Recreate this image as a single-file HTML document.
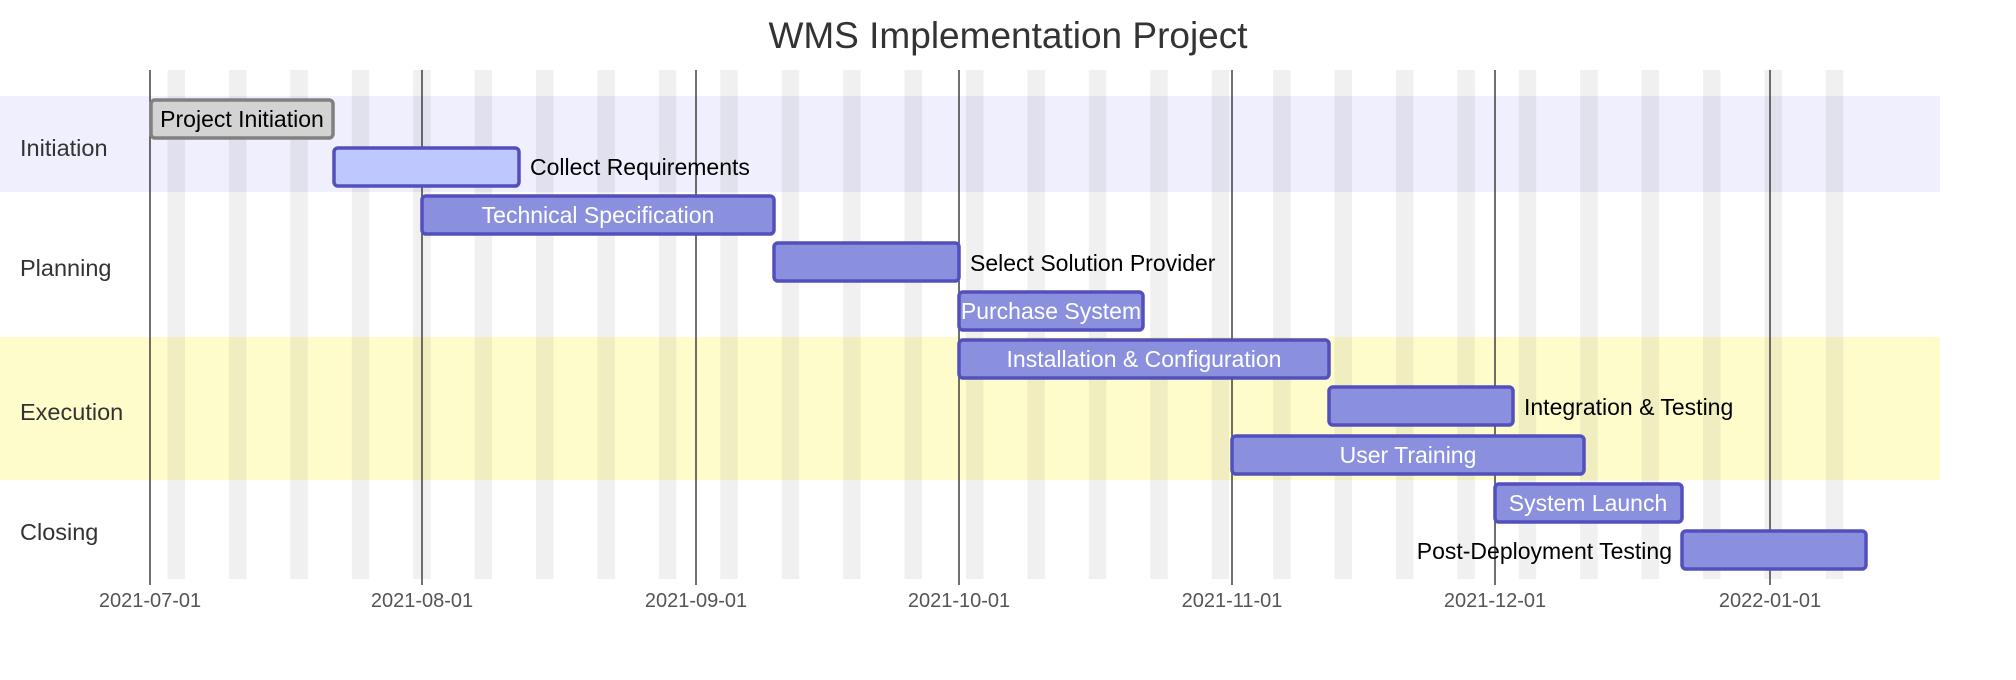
<!DOCTYPE html>
<html><head><meta charset="utf-8"><style>
html,body{margin:0;padding:0;background:#fff;}
svg{display:block;font-family:"Liberation Sans",sans-serif;}
</style></head><body>
<svg width="2016" height="680" viewBox="0 0 2016 680" xmlns="http://www.w3.org/2000/svg">
<defs>
<pattern id="wk" patternUnits="userSpaceOnUse" x="167.5" y="0" width="61.42" height="680">
<rect x="0" y="0" width="17.5" height="680" fill="#000" fill-opacity="0.06"/>
</pattern>
</defs>
<text x="1008" y="48" text-anchor="middle" font-size="37" fill="#333">WMS Implementation Project</text>
<rect x="0" y="96" width="1940" height="96" fill="#efeffd"/>
<rect x="0" y="337" width="1940" height="143" fill="#fffccc"/>
<rect x="167" y="70" width="1700" height="509" fill="url(#wk)"/>
<g stroke="#333" stroke-width="1.4">
<line x1="150" y1="70" x2="150" y2="585"/>
<line x1="422" y1="70" x2="422" y2="585"/>
<line x1="696" y1="70" x2="696" y2="585"/>
<line x1="959" y1="70" x2="959" y2="585"/>
<line x1="1232" y1="70" x2="1232" y2="585"/>
<line x1="1495" y1="70" x2="1495" y2="585"/>
<line x1="1770" y1="70" x2="1770" y2="585"/>
</g>
<g font-size="20" fill="#555" text-anchor="middle">
<text x="150" y="607">2021-07-01</text>
<text x="422" y="607">2021-08-01</text>
<text x="696" y="607">2021-09-01</text>
<text x="959" y="607">2021-10-01</text>
<text x="1232" y="607">2021-11-01</text>
<text x="1495" y="607">2021-12-01</text>
<text x="1770" y="607">2022-01-01</text>
</g>
<g font-size="23.5" fill="#333">
<text x="20" y="156">Initiation</text>
<text x="20" y="276">Planning</text>
<text x="20" y="420">Execution</text>
<text x="20" y="540">Closing</text>
</g>
<g stroke-width="3.5" stroke="#534fbc" fill="#8a90dd">
<rect x="151" y="100" width="182" height="38" rx="4" fill="#d3d3d3" stroke="#808080"/>
<rect x="334" y="148" width="185" height="38" rx="4" fill="#bfc7ff"/>
<rect x="422" y="196" width="352" height="38" rx="4"/>
<rect x="774" y="243" width="185" height="38" rx="4"/>
<rect x="959" y="292" width="184" height="38" rx="4"/>
<rect x="959" y="340" width="370" height="38" rx="4"/>
<rect x="1329" y="387" width="184" height="38" rx="4"/>
<rect x="1232" y="436" width="352" height="38" rx="4"/>
<rect x="1495" y="484" width="187" height="38" rx="4"/>
<rect x="1682" y="531" width="184" height="38" rx="4"/>
</g>
<g font-size="23">
<text x="242" y="127" text-anchor="middle" fill="#000">Project Initiation</text>
<text x="530" y="175" fill="#000">Collect Requirements</text>
<text x="598" y="223" text-anchor="middle" fill="#fff">Technical Specification</text>
<text x="970" y="271" fill="#000">Select Solution Provider</text>
<text x="1051" y="319" text-anchor="middle" fill="#fff">Purchase System</text>
<text x="1144" y="367" text-anchor="middle" fill="#fff">Installation &amp; Configuration</text>
<text x="1524" y="415" fill="#000">Integration &amp; Testing</text>
<text x="1408" y="463" text-anchor="middle" fill="#fff">User Training</text>
<text x="1588" y="511" text-anchor="middle" fill="#fff">System Launch</text>
<text x="1672" y="559" text-anchor="end" fill="#000">Post-Deployment Testing</text>
</g>
</svg>
</body></html>
